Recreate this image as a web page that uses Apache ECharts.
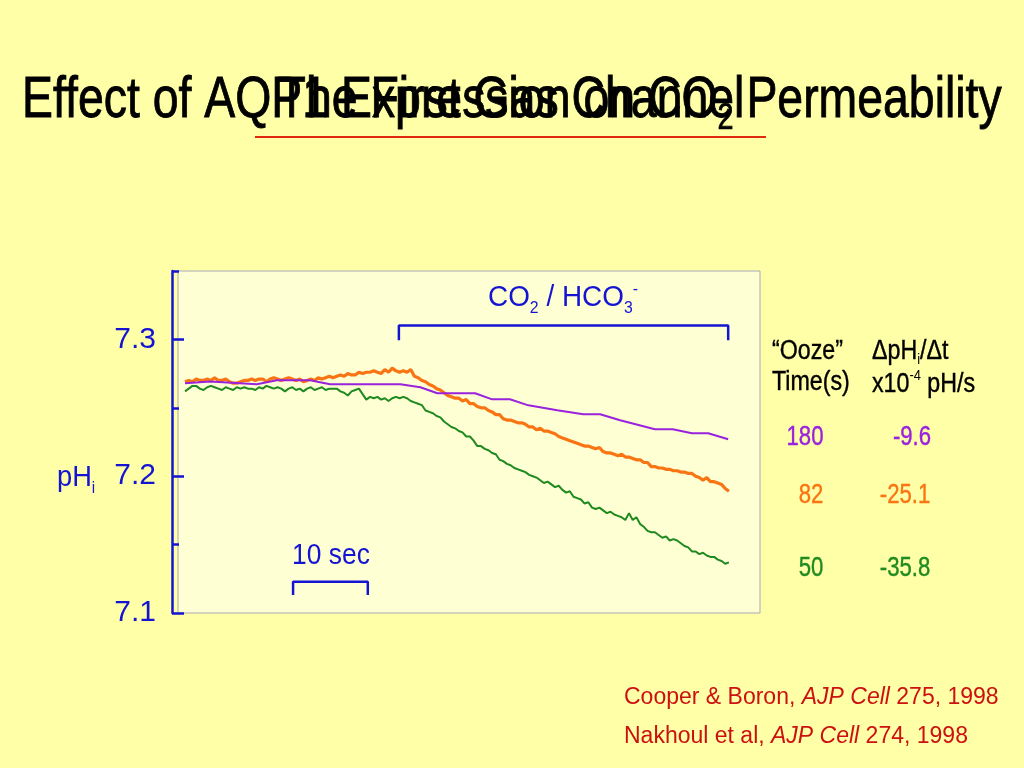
<!DOCTYPE html>
<html>
<head>
<meta charset="utf-8">
<script src="https://cdn.jsdelivr.net/npm/echarts@6.0.0/dist/echarts.min.js"></script>
<style>
html,body{margin:0;padding:0;background:#FFFFA8;}
#c{width:1024px;height:768px;}
</style>
</head>
<body>
<div id="c"></div>
<script>
// ---------- DATA ----------
// sampling interval of the recorded traces (seconds)
const sampleStep = 0.5;

// Orange trace ("Ooze" time 82 s) pHi, one value per 0.5 s
const orangeValues = [
  7.269, 7.270, 7.269, 7.271, 7.270, 7.270, 7.271, 7.270, 7.272, 7.270,
  7.270, 7.271, 7.269, 7.268, 7.268, 7.269, 7.270, 7.270, 7.271, 7.270,
  7.271, 7.271, 7.269, 7.271, 7.272, 7.271, 7.270, 7.271, 7.272, 7.271,
  7.270, 7.271, 7.269, 7.270, 7.271, 7.270, 7.272, 7.271, 7.272, 7.273,
  7.272, 7.273, 7.274, 7.273, 7.275, 7.274, 7.274, 7.276, 7.275, 7.276,
  7.276, 7.277, 7.276, 7.275, 7.278, 7.276, 7.279, 7.277, 7.276, 7.277,
  7.276, 7.278, 7.273, 7.272, 7.270, 7.269, 7.267, 7.266, 7.264, 7.263,
  7.261, 7.259, 7.258, 7.257, 7.257, 7.255, 7.256, 7.253, 7.253, 7.251,
  7.250, 7.250, 7.248, 7.247, 7.245, 7.245, 7.242, 7.241, 7.241, 7.240,
  7.239, 7.239, 7.238, 7.236, 7.236, 7.234, 7.235, 7.233, 7.233, 7.232,
  7.231, 7.229, 7.228, 7.227, 7.226, 7.225, 7.224, 7.223, 7.222, 7.222,
  7.221, 7.220, 7.221, 7.218, 7.217, 7.217, 7.216, 7.215, 7.216, 7.214,
  7.214, 7.213, 7.212, 7.212, 7.210, 7.210, 7.207, 7.207, 7.206, 7.206,
  7.205, 7.205, 7.204, 7.204, 7.203, 7.203, 7.202, 7.202, 7.200, 7.199,
  7.197, 7.199, 7.196, 7.196, 7.195, 7.194, 7.191, 7.189
];

// Green trace ("Ooze" time 50 s) pHi, one value per 0.5 s
const greenValues = [
  7.262, 7.264, 7.266, 7.266, 7.264, 7.263, 7.265, 7.266, 7.265, 7.264,
  7.263, 7.265, 7.264, 7.263, 7.265, 7.264, 7.265, 7.264, 7.264, 7.263,
  7.265, 7.264, 7.266, 7.265, 7.264, 7.265, 7.264, 7.262, 7.264, 7.265,
  7.263, 7.264, 7.262, 7.264, 7.265, 7.263, 7.264, 7.265, 7.263, 7.264,
  7.264, 7.264, 7.262, 7.261, 7.259, 7.262, 7.263, 7.264, 7.260, 7.256,
  7.258, 7.257, 7.258, 7.256, 7.257, 7.255, 7.257, 7.258, 7.257, 7.258,
  7.257, 7.255, 7.254, 7.253, 7.252, 7.248, 7.247, 7.246, 7.244, 7.243,
  7.240, 7.238, 7.236, 7.235, 7.233, 7.232, 7.229, 7.229, 7.226, 7.222,
  7.222, 7.220, 7.219, 7.217, 7.216, 7.212, 7.211, 7.209, 7.208, 7.206,
  7.205, 7.204, 7.203, 7.201, 7.200, 7.199, 7.197, 7.195, 7.196, 7.194,
  7.192, 7.193, 7.190, 7.188, 7.189, 7.185, 7.184, 7.183, 7.180, 7.181,
  7.177, 7.176, 7.177, 7.175, 7.173, 7.174, 7.172, 7.171, 7.170, 7.168,
  7.173, 7.168, 7.170, 7.165, 7.163, 7.160, 7.159, 7.159, 7.157, 7.155,
  7.156, 7.153, 7.154, 7.153, 7.151, 7.149, 7.148, 7.145, 7.145, 7.143,
  7.144, 7.142, 7.141, 7.141, 7.139, 7.138, 7.136, 7.137
];

// Purple trace ("Ooze" time 180 s): [time s, pHi]
const purplePoints = [
  [0, 7.2679], [3.4, 7.2693], [9.7, 7.2672], [12.4, 7.2701], [16.9, 7.2701],
  [19.6, 7.2672], [29.1, 7.2672], [31.8, 7.2650], [34.1, 7.2606], [39.2, 7.2606],
  [41.5, 7.2562], [43.9, 7.2562], [46.4, 7.2518], [50.3, 7.2482], [53.8, 7.2453],
  [56.1, 7.2453], [58.8, 7.2409], [63.5, 7.2343], [65.9, 7.2343], [68.5, 7.2314],
  [70.7, 7.2314], [73.4, 7.2270]
];

// Annotation brackets: [time s, pHi]
const co2Bracket = [[28.9, 7.2993], [28.9, 7.3102], [73.4, 7.3102], [73.4, 7.2993]];
const tenSecBracket = [[14.6, 7.1131], [14.6, 7.1228], [24.7, 7.1228], [24.7, 7.1131]];

// Axis
const yMajorTicks = [7.1, 7.2, 7.3];
const yMinorTicks = [7.15, 7.25, 7.35];

// Table
const oozeTimes = ['180', '82', '50'];
const rates = ['-9.6', '-25.1', '-35.8'];

// ---------- STYLE ----------
const F = "'Liberation Sans', Arial, sans-serif";
const BLUE = '#1414D2';
const PURPLE = '#9922DD';
const ORANGE = '#F97412';
const GREEN = '#1F8A1F';
const RED = '#CC1111';
const traceColors = [PURPLE, ORANGE, GREEN];

const orangeData = orangeValues.map((v, i) => [i * sampleStep, v]);
const greenData = greenValues.map((v, i) => [i * sampleStep, v]);

function T(x, y, text, o) {
  o = o || {};
  const st = {
    text: text, fontSize: o.fs || 26, fontFamily: F,
    fill: o.fill || '#000', align: o.align || 'left', verticalAlign: 'middle',
    fontStyle: 'normal'
  };
  if (o.rich) st.rich = o.rich;
  if (o.stroke) { st.stroke = o.stroke; st.lineWidth = o.lw || 0.6; }
  return { type: 'text', x: x, y: y, scaleX: o.sx || 1, silent: true, z: 10, style: st };
}

const graphics = [];
// Titles (overlapping, as in the reference)
graphics.push(T(22, 101, '{n|Effect of AQP1 Expression on CO}{s|2}{n| Permeability}', {
  sx: 0.80, fs: 58,
  rich: {
    n: { fontSize: 58, fontFamily: F, fill: '#000', stroke: '#000', lineWidth: 0.9, lineHeight: 70 },
    s: { fontSize: 36, fontFamily: F, fill: '#000', stroke: '#000', lineWidth: 0.7, lineHeight: 70, padding: [36, 0, 0, 0] }
  }
}));
graphics.push(T(511, 101, 'The First Gas Channel', { sx: 0.80, fs: 58, align: 'center', stroke: '#000', lw: 0.9 }));
graphics.push({
  type: 'line', silent: true, z: 10,
  shape: { x1: 255, y1: 137, x2: 766, y2: 137 },
  style: { stroke: '#E02A10', lineWidth: 2 }
});

// CO2 / HCO3- label
graphics.push(T(563, 298, '{n|CO}{s|2}{n| / HCO}{s|3}{p|-}', {
  sx: 0.93, align: 'center',
  rich: {
    n: { fontSize: 30, fontFamily: F, fill: BLUE, lineHeight: 36 },
    s: { fontSize: 17, fontFamily: F, fill: BLUE, lineHeight: 36, padding: [20, 0, 0, 0] },
    p: { fontSize: 17, fontFamily: F, fill: BLUE, lineHeight: 36, padding: [0, 0, 18, 0] }
  }
}));
// 10 sec label
graphics.push(T(331, 556, '10 sec', { sx: 0.91, fs: 29, fill: BLUE, align: 'center' }));
// pHi axis name
graphics.push(T(57, 478, '{n|pH}{s|i}', {
  sx: 0.94,
  rich: {
    n: { fontSize: 29, fontFamily: F, fill: BLUE, lineHeight: 36 },
    s: { fontSize: 16, fontFamily: F, fill: BLUE, lineHeight: 36, padding: [21, 0, 0, 0] }
  }
}));

// Table headers
graphics.push(T(772, 352, '\u201COoze\u201D', { sx: 0.86, fs: 27, stroke: '#000', lw: 0.4 }));
graphics.push(T(772, 383, 'Time(s)', { sx: 0.86, fs: 27, stroke: '#000', lw: 0.4 }));
graphics.push(T(872, 352, '{n|\u0394pH}{s|i}{n|/\u0394t}', {
  sx: 0.86,
  rich: {
    n: { fontSize: 27, fontFamily: F, fill: '#000', stroke: '#000', lineWidth: 0.4, lineHeight: 32 },
    s: { fontSize: 15, fontFamily: F, fill: '#000', lineHeight: 32, padding: [16, 0, 0, 0] }
  }
}));
graphics.push(T(872, 385, '{n|x10}{p|-4}{n| pH/s}', {
  sx: 0.86,
  rich: {
    n: { fontSize: 27, fontFamily: F, fill: '#000', stroke: '#000', lineWidth: 0.4, lineHeight: 32 },
    p: { fontSize: 15, fontFamily: F, fill: '#000', lineHeight: 32, padding: [0, 0, 18, 0] }
  }
}));
// Table values
const rowY = [438, 496, 569];
const col1X = [805, 811, 811];
const col2X = [912, 905, 905];
for (let k = 0; k < 3; k++) {
  graphics.push(T(col1X[k], rowY[k], oozeTimes[k], { sx: 0.82, fs: 27, fill: traceColors[k], align: 'center', stroke: traceColors[k], lw: 0.4 }));
  graphics.push(T(col2X[k], rowY[k], rates[k], { sx: 0.82, fs: 27, fill: traceColors[k], align: 'center', stroke: traceColors[k], lw: 0.4 }));
}
// Citations
const citeRich = {
  n: { fontSize: 23, fontFamily: F, fill: RED, lineHeight: 28 },
  i: { fontSize: 23, fontFamily: F, fill: RED, lineHeight: 28, fontStyle: 'italic' }
};
graphics.push(T(624, 698, '{n|Cooper & Boron, }{i|AJP Cell}{n| 275, 1998}', { rich: citeRich }));
graphics.push(T(624, 737, '{n|Nakhoul et al, }{i|AJP Cell}{n| 274, 1998}', { rich: citeRich }));

const option = {
  backgroundColor: '#FFFFA8',
  animation: false,
  grid: {
    left: 178, top: 271, width: 582, height: 342,
    show: true, backgroundColor: '#FFFFD4', borderColor: '#A8A8B8', borderWidth: 1
  },
  xAxis: { type: 'value', min: -0.95, max: 77.7, show: false },
  yAxis: [
    {
      type: 'value', min: 7.1, max: 7.35, position: 'left', offset: 6,
      axisLine: { show: true, onZero: false, lineStyle: { color: BLUE, width: 2.5 } },
      axisTick: { show: true, inside: true, length: 12, customValues: yMajorTicks, lineStyle: { color: BLUE, width: 2.5 } },
      axisLabel: {
        show: true, customValues: yMajorTicks, formatter: v => Number(v).toFixed(1),
        color: BLUE, fontSize: 30, fontFamily: F, margin: 16
      },
      splitLine: { show: false }
    },
    {
      type: 'value', min: 7.1, max: 7.35, position: 'left', offset: 6,
      axisLine: { show: false, onZero: false },
      axisTick: { show: true, inside: true, length: 7, customValues: yMinorTicks, lineStyle: { color: BLUE, width: 2.5 } },
      axisLabel: { show: false },
      splitLine: { show: false }
    }
  ],
  series: [
    { name: 'orange', type: 'line', data: orangeData, showSymbol: false, symbol: 'none',
      lineStyle: { color: ORANGE, width: 3.2 }, itemStyle: { color: ORANGE }, z: 3 },
    { name: 'purple', type: 'line', data: purplePoints, showSymbol: false, symbol: 'none',
      lineStyle: { color: PURPLE, width: 2 }, itemStyle: { color: PURPLE }, z: 4 },
    { name: 'green', type: 'line', data: greenData, showSymbol: false, symbol: 'none',
      lineStyle: { color: GREEN, width: 2 }, itemStyle: { color: GREEN }, z: 5 },
    { name: 'co2', type: 'line', data: co2Bracket, showSymbol: false, symbol: 'none', silent: true,
      lineStyle: { color: BLUE, width: 2.5 }, z: 6 },
    { name: 'tensec', type: 'line', data: tenSecBracket, showSymbol: false, symbol: 'none', silent: true,
      lineStyle: { color: BLUE, width: 2.5 }, z: 6 }
  ],
  graphic: graphics
};

const chart = echarts.init(document.getElementById('c'), null, { renderer: 'canvas', width: 1024, height: 768 });
chart.setOption(option);
</script>
</body>
</html>
